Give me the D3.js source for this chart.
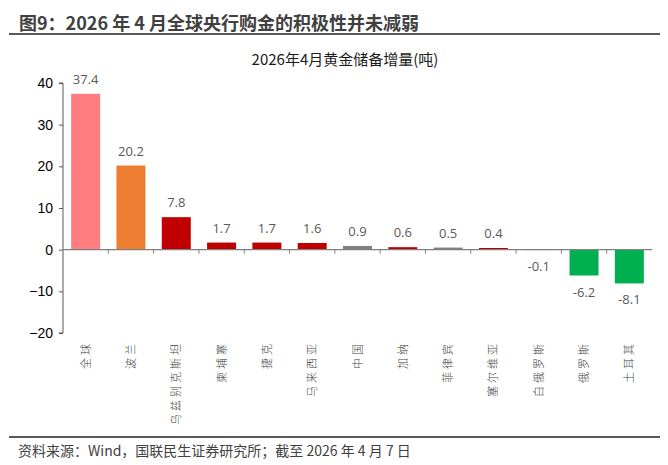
<!DOCTYPE html>
<html>
<head>
<meta charset="utf-8">
<script src="https://cdn.jsdelivr.net/npm/d3@7"></script>
<style>
  body { margin: 0; background: #fff; }
  svg { display: block; font-family: "Noto Sans CJK SC", "Noto Sans", sans-serif; }
</style>
</head>
<body>
<div id="chart"></div>
<script>
const countries = ['全球', '波兰', '乌兹别克斯坦', '柬埔寨', '捷克', '马来西亚', '中国', '加纳', '菲律宾', '塞尔维亚', '白俄罗斯', '俄罗斯', '土耳其'];
const values = [37.4, 20.2, 7.8, 1.7, 1.7, 1.6, 0.9, 0.6, 0.5, 0.4, -0.1, -6.2, -8.1];
const barColors = ['#FF7C80', '#ED7D31', '#C00000', '#C00000', '#C00000', '#C00000', '#808080', '#C00000', '#808080', '#C00000', '#00B050', '#00B050', '#00B050'];
const yTicks = [40, 30, 20, 10, 0, -10, -20];

const width = 668, height = 465;
const margin = { t: 83, r: 16, b: 132, l: 63 };

const svg = d3.select('#chart').append('svg')
    .attr('width', width)
    .attr('height', height);

// header
svg.append('text')
    .attr('x', 19).attr('y', 30)
    .attr('font-size', 18).attr('font-weight', 'bold')
    .attr('fill', '#404040')
    .text('图9：2026 年 4 月全球央行购金的积极性并未减弱');
svg.append('line')
    .attr('x1', 9).attr('x2', 660).attr('y1', 34).attr('y2', 34)
    .attr('stroke', '#595959').attr('stroke-width', 2);

svg.append('text')
    .attr('x', 345).attr('y', 65)
    .attr('text-anchor', 'middle')
    .attr('font-size', 15)
    .attr('fill', '#1a1a1a')
    .text('2026年4月黄金储备增量(吨)');

const w = width - margin.l - margin.r;
const h = height - margin.t - margin.b;

const x = d3.scaleBand()
    .domain(countries)
    .range([margin.l, margin.l + w])
    .paddingInner(0.36)
    .paddingOuter(0.18);

const y = d3.scaleLinear()
    .domain([-20, 40])
    .range([margin.t + h, margin.t]);

// y axis
const axisY = d3.axisLeft(y).tickValues(yTicks).tickSize(4).tickPadding(6);
const gy = svg.append('g')
    .attr('transform', `translate(${margin.l},0)`)
    .call(axisY);
gy.select('.domain').attr('stroke', '#595959').attr('d', `M-4,${y(40)}H0V${y(-20)}H-4`);
gy.selectAll('.tick line').attr('stroke', '#595959');
gy.selectAll('text')
    .attr('font-family', '"Liberation Sans", Arial, sans-serif')
    .attr('font-size', 14).attr('fill', '#000');

// bars
svg.append('g').selectAll('rect')
    .data(values)
    .join('rect')
    .attr('x', (d, i) => x(countries[i]))
    .attr('width', x.bandwidth())
    .attr('y', d => y(Math.max(0, d)))
    .attr('height', d => Math.abs(y(d) - y(0)))
    .attr('fill', (d, i) => barColors[i]);

// zero axis with ticks between categories
const step = x.step();
const gx = svg.append('g');
gx.append('line')
    .attr('x1', margin.l).attr('x2', margin.l + w)
    .attr('y1', y(0)).attr('y2', y(0))
    .attr('stroke', '#808080').attr('stroke-width', 1.2);
gx.selectAll('.sep')
    .data(countries.slice(1))
    .join('line')
    .attr('class', 'sep')
    .attr('x1', d => x(d) - (step - x.bandwidth()) / 2)
    .attr('x2', d => x(d) - (step - x.bandwidth()) / 2)
    .attr('y1', y(0)).attr('y2', y(0) + 4)
    .attr('stroke', '#808080');

// value labels
svg.append('g').selectAll('text')
    .data(values)
    .join('text')
    .attr('x', (d, i) => x(countries[i]) + x.bandwidth() / 2)
    .attr('y', d => d >= 0 ? y(d) - 10 : y(d) + 21)
    .attr('text-anchor', 'middle')
    .attr('font-family', '"Open Sans", sans-serif')
    .attr('font-size', 13)
    .attr('fill', '#595959')
    .text(d => d.toFixed(1));

// category labels, rotated
svg.append('g').selectAll('text')
    .data(countries)
    .join('text')
    .attr('transform', d => `translate(${x(d) + x.bandwidth() / 2 + 4},341) rotate(-90)`)
    .attr('text-anchor', 'end')
    .attr('font-size', 11)
    .attr('font-weight', 300)
    .style('letter-spacing', '3px')
    .attr('fill', '#404040')
    .text(d => d);

// footer
svg.append('line')
    .attr('x1', 9).attr('x2', 660).attr('y1', 437).attr('y2', 437)
    .attr('stroke', '#595959').attr('stroke-width', 2);
svg.append('text')
    .attr('x', 18).attr('y', 456)
    .attr('font-size', 14)
    .attr('fill', '#404040')
    .text('资料来源：Wind，国联民生证券研究所；截至 2026 年 4 月 7 日');
</script>
</body>
</html>
